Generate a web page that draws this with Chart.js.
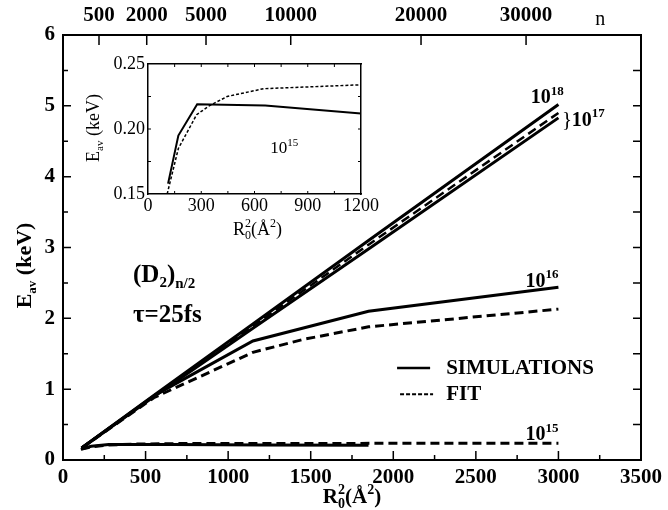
<!DOCTYPE html>
<html>
<head>
<meta charset="utf-8">
<script src="https://cdn.jsdelivr.net/npm/chart.js@4.4.1/dist/chart.umd.min.js"></script>
<style>
  html, body { margin: 0; padding: 0; background: #fff; }
  #wrap { position: relative; width: 668px; height: 510px; }
  #main { position: absolute; left: 0; top: 0; width: 668px; height: 510px; }
  #inset { position: absolute; left: 80px; top: 50px; width: 300px; height: 195px; }
</style>
</head>
<body>
<div id="wrap">
  <canvas id="main" width="668" height="510"></canvas>
  <canvas id="inset" width="300" height="195"></canvas>
</div>
<script>
// E_av vs R0^2 for (D2)n/2 clusters, tau = 25 fs, several laser intensities

// top axis: cluster size n, placed at the matching R0^2
const N_LABELS = ['500', '2000', '5000', '10000', '20000', '30000'];
const N_AT_R2 = [218, 507, 866, 1379, 2168, 2804];

// 10^18, 10^17, 10^16 W/cm2 (keV)
const R2_BIG = [113, 560, 1150, 1850, 3000];
const SIM_1E18 = [0.17, 0.93, 1.92, 3.10, 5.02];
const SIM_1E17 = [0.17, 0.91, 1.86, 2.98, 4.83];
const FIT_1E17 = [0.17, 0.92, 1.89, 3.04, 4.90];
const SIM_1E16 = [0.17, 0.92, 1.68, 2.10, 2.44];
const R2_FIT16 = [113, 550, 1150, 1450, 1850, 3000];
const FIT_1E16 = [0.17, 0.88, 1.52, 1.70, 1.88, 2.13];

// 10^15 W/cm2 (also the inset)
const R2_SIM15 = [113, 171, 277, 660, 1200, 1850];
const SIM_1E15 = [0.158, 0.195, 0.219, 0.218, 0.212, 0.210];
const R2_FIT15 = [108, 171, 274, 347, 446, 651, 1200, 3000];
const FIT_1E15 = [0.150, 0.185, 0.211, 0.218, 0.225, 0.231, 0.234, 0.236];

const SERIF = '"Liberation Serif", "Times New Roman", serif';
Chart.defaults.font.family = SERIF;
Chart.defaults.color = '#000';

const pts = (xs, ys) => xs.map((x, i) => ({ x, y: ys[i] }));

function line(data, dash, width) {
  return {
    data, borderColor: '#000', borderWidth: width, borderDash: dash,
    pointRadius: 0, fill: false, tension: 0, xAxisID: 'x', yAxisID: 'y',
  };
}

// text runs with sub/superscripts: {t, size, bold, dy, stay}
function runs(ctx, x, y, parts, align) {
  const f = (p) => `${p.bold ? 'bold ' : ''}${p.size}px ${SERIF}`;
  let w = 0;
  parts.forEach((p) => { ctx.font = f(p); if (!p.stay) w += ctx.measureText(p.t).width; });
  let cx = align === 'center' ? x - w / 2 : x;
  ctx.textAlign = 'left';
  ctx.textBaseline = 'alphabetic';
  parts.forEach((p) => {
    ctx.font = f(p);
    ctx.fillText(p.t, cx, y + (p.dy || 0));
    if (!p.stay) cx += ctx.measureText(p.t).width;
  });
}

function power(ctx, x, y, exp, size, bold, align) {
  runs(ctx, x, y, [
    { t: '10', size, bold },
    { t: exp, size: Math.round(size * 0.65), bold, dy: -size * 0.42 },
  ], align);
}

function inTicks(ctx, area, scale, values, len, side) {
  ctx.beginPath();
  values.forEach((v) => {
    const p = scale.getPixelForValue(v);
    if (side === 'bottom') { ctx.moveTo(p, area.bottom); ctx.lineTo(p, area.bottom - len); }
    if (side === 'top') { ctx.moveTo(p, area.top); ctx.lineTo(p, area.top + len); }
    if (side === 'left') { ctx.moveTo(area.left, p); ctx.lineTo(area.left + len, p); }
    if (side === 'right') { ctx.moveTo(area.right, p); ctx.lineTo(area.right - len, p); }
  });
  ctx.stroke();
}

const range = (a, b, s) => { const r = []; for (let v = a; v <= b + 1e-9; v += s) r.push(+v.toFixed(4)); return r; };

const edge = { display: true, drawOnChartArea: false, drawTicks: false };
const border = { display: true, color: '#000', width: 2 };
const boldTick = { size: 21, weight: 'bold' };
const plain = (v) => String(v);

const mainDeco = {
  id: 'mainDeco',
  afterDraw(chart) {
    const { ctx, chartArea: a } = chart;
    const sx = chart.scales.x, sy = chart.scales.y;
    const X = (v) => sx.getPixelForValue(v), Y = (v) => sy.getPixelForValue(v);
    ctx.save();
    ctx.strokeStyle = '#000';
    ctx.fillStyle = '#000';
    ctx.lineWidth = 1.5;
    const xs = range(250, 3250, 250);
    inTicks(ctx, a, sx, xs.filter((v) => v % 500 === 0), 9, 'bottom');
    inTicks(ctx, a, sx, xs.filter((v) => v % 500 !== 0), 5, 'bottom');
    const ys = range(0.5, 5.5, 0.5);
    inTicks(ctx, a, sy, ys.filter((v) => v % 1 === 0), 8, 'left');
    inTicks(ctx, a, sy, ys.filter((v) => v % 1 !== 0), 5, 'left');
    inTicks(ctx, a, sy, ys, 8, 'right');
    inTicks(ctx, a, chart.scales.xTop, N_AT_R2, 10, 'top');

    // top axis name
    ctx.font = `20px ${SERIF}`;
    ctx.textAlign = 'center';
    ctx.textBaseline = 'alphabetic';
    ctx.fillText('n', chart.scales.xTop.getPixelForValue(3253), a.top - 10);

    // axis titles
    runs(ctx, (a.left + a.right) / 2, 503, [
      { t: 'R', size: 21, bold: true },
      { t: '2', size: 14, bold: true, dy: -9, stay: true },
      { t: '0', size: 14, bold: true, dy: 5 },
      { t: '(Å', size: 21, bold: true },
      { t: '2', size: 14, bold: true, dy: -9 },
      { t: ')', size: 21, bold: true },
    ], 'center');
    ctx.save();
    ctx.translate(31, (a.top + a.bottom) / 2 + 18);
    ctx.rotate(-Math.PI / 2);
    runs(ctx, 0, 0, [
      { t: 'E', size: 22, bold: true },
      { t: 'av', size: 13, bold: true, dy: 5 },
      { t: ' (keV)', size: 22, bold: true },
    ], 'center');
    ctx.restore();

    // curve labels
    power(ctx, X(2932), Y(5.04), '18', 20, true, 'center');
    ctx.font = `21px ${SERIF}`;
    ctx.textAlign = 'left';
    ctx.fillText('}', X(3022), Y(4.72));
    power(ctx, X(3081), Y(4.72), '17', 20, true, 'left');
    power(ctx, X(2901), Y(2.446), '16', 20, true, 'center');
    power(ctx, X(2901), Y(0.282), '15', 20, true, 'center');

    // cluster / pulse annotation
    runs(ctx, X(424), Y(2.52), [
      { t: '(D', size: 25, bold: true },
      { t: '2', size: 15, bold: true, dy: 5 },
      { t: ')', size: 25, bold: true },
      { t: 'n/2', size: 15, bold: true, dy: 6 },
    ], 'left');
    runs(ctx, X(424), Y(1.95), [{ t: 'τ=25fs', size: 25, bold: true }], 'left');

    // legend
    ctx.lineWidth = 2.5;
    ctx.beginPath();
    ctx.moveTo(X(2023), Y(1.30)); ctx.lineTo(X(2223), Y(1.30));
    ctx.stroke();
    ctx.lineWidth = 2;
    ctx.setLineDash([4, 2]);
    ctx.beginPath();
    ctx.moveTo(X(2041), Y(0.93)); ctx.lineTo(X(2241), Y(0.93));
    ctx.stroke();
    ctx.setLineDash([]);
    runs(ctx, X(2320), Y(1.214), [{ t: 'SIMULATIONS', size: 21, bold: true }], 'left');
    runs(ctx, X(2320), Y(0.847), [{ t: 'FIT', size: 21, bold: true }], 'left');
    ctx.restore();
  },
};

const MAIN_DASH = [9, 5];

new Chart(document.getElementById('main'), {
  type: 'line',
  data: {
    datasets: [
      line(pts(R2_BIG, SIM_1E18), [], 3),
      line(pts(R2_BIG, SIM_1E17), [], 3),
      line(pts(R2_BIG, FIT_1E17), MAIN_DASH, 2.5),
      line(pts(R2_BIG, SIM_1E16), [], 3),
      line(pts(R2_FIT16, FIT_1E16), MAIN_DASH, 3),
      line(pts(R2_SIM15, SIM_1E15), [], 3),
      line(pts(R2_FIT15, FIT_1E15), MAIN_DASH, 3),
    ],
  },
  options: {
    responsive: false,
    animation: false,
    events: [],
    layout: { padding: 0 },
    plugins: { legend: { display: false }, tooltip: { enabled: false } },
    scales: {
      x: {
        type: 'linear', position: 'bottom', min: 0, max: 3500,
        ticks: { stepSize: 500, font: boldTick, padding: 5, maxRotation: 0, callback: plain },
        grid: edge, border,
        afterFit: (s) => { s.height = 50; },
      },
      xTop: {
        type: 'linear', position: 'top', min: 0, max: 3500,
        afterBuildTicks: (s) => { s.ticks = N_AT_R2.map((v) => ({ value: v })); },
        ticks: { callback: (v, i) => N_LABELS[i], font: boldTick, padding: 7, autoSkip: false, maxRotation: 0 },
        grid: edge, border,
        afterFit: (s) => { s.height = 35; },
      },
      y: {
        type: 'linear', position: 'left', min: 0, max: 6,
        ticks: { stepSize: 1, font: boldTick, padding: 8, callback: plain },
        grid: edge, border,
        afterFit: (s) => { s.width = 63; },
      },
      yRight: {
        type: 'linear', position: 'right', min: 0, max: 6,
        ticks: { display: false },
        grid: edge, border,
        afterFit: (s) => { s.width = 27; },
      },
    },
  },
  plugins: [mainDeco],
});

// inset: low-intensity detail
const insetDeco = {
  id: 'insetDeco',
  afterDraw(chart) {
    const { ctx, chartArea: a } = chart;
    const sx = chart.scales.x, sy = chart.scales.y;
    ctx.save();
    ctx.strokeStyle = '#000';
    ctx.fillStyle = '#000';
    ctx.lineWidth = 1;
    inTicks(ctx, a, sx, range(150, 1050, 150), 3, 'bottom');
    inTicks(ctx, a, sx, range(150, 1050, 150), 3, 'top');
    inTicks(ctx, a, sy, range(0.175, 0.225, 0.025), 3, 'left');
    inTicks(ctx, a, sy, range(0.175, 0.225, 0.025), 3, 'right');
    runs(ctx, (a.left + a.right) / 2 + 3, 185, [
      { t: 'R', size: 18 },
      { t: '2', size: 12, dy: -8, stay: true },
      { t: '0', size: 12, dy: 4 },
      { t: '(Å', size: 18 },
      { t: '2', size: 12, dy: -8 },
      { t: ')', size: 18 },
    ], 'center');
    ctx.save();
    ctx.translate(19, (a.top + a.bottom) / 2 - 1);
    ctx.rotate(-Math.PI / 2);
    runs(ctx, 0, 0, [
      { t: 'E', size: 18 },
      { t: 'av', size: 11, dy: 4 },
      { t: ' (keV)', size: 18 },
    ], 'center');
    ctx.restore();
    power(ctx, sx.getPixelForValue(768), sy.getPixelForValue(0.1815), '15', 17, false, 'center');
    ctx.restore();
  },
};

const thin = { display: true, color: '#000', width: 1.5 };
const INSET_DASH = [3, 2];

new Chart(document.getElementById('inset'), {
  type: 'line',
  data: {
    datasets: [
      line(pts(R2_SIM15, SIM_1E15), [], 2),
      line(pts(R2_FIT15, FIT_1E15), INSET_DASH, 1.5),
    ],
  },
  options: {
    responsive: false,
    animation: false,
    events: [],
    layout: { padding: 0 },
    plugins: { legend: { display: false }, tooltip: { enabled: false } },
    scales: {
      x: {
        type: 'linear', position: 'bottom', min: 0, max: 1200,
        ticks: { stepSize: 300, font: { size: 18 }, padding: 1, maxRotation: 0, callback: plain },
        grid: edge, border: thin,
        afterFit: (s) => { s.height = 51; },
      },
      xTop: {
        type: 'linear', position: 'top', min: 0, max: 1200,
        ticks: { display: false }, grid: edge, border: thin,
        afterFit: (s) => { s.height = 14; },
      },
      y: {
        type: 'linear', position: 'left', min: 0.15, max: 0.25,
        ticks: { stepSize: 0.05, font: { size: 18 }, padding: 3, callback: (v) => v.toFixed(2) },
        grid: edge, border: thin,
        afterFit: (s) => { s.width = 68; },
      },
      yRight: {
        type: 'linear', position: 'right', min: 0.15, max: 0.25,
        ticks: { display: false }, grid: edge, border: thin,
        afterFit: (s) => { s.width = 7; },
      },
    },
  },
  plugins: [insetDeco],
});
</script>
</body>
</html>
